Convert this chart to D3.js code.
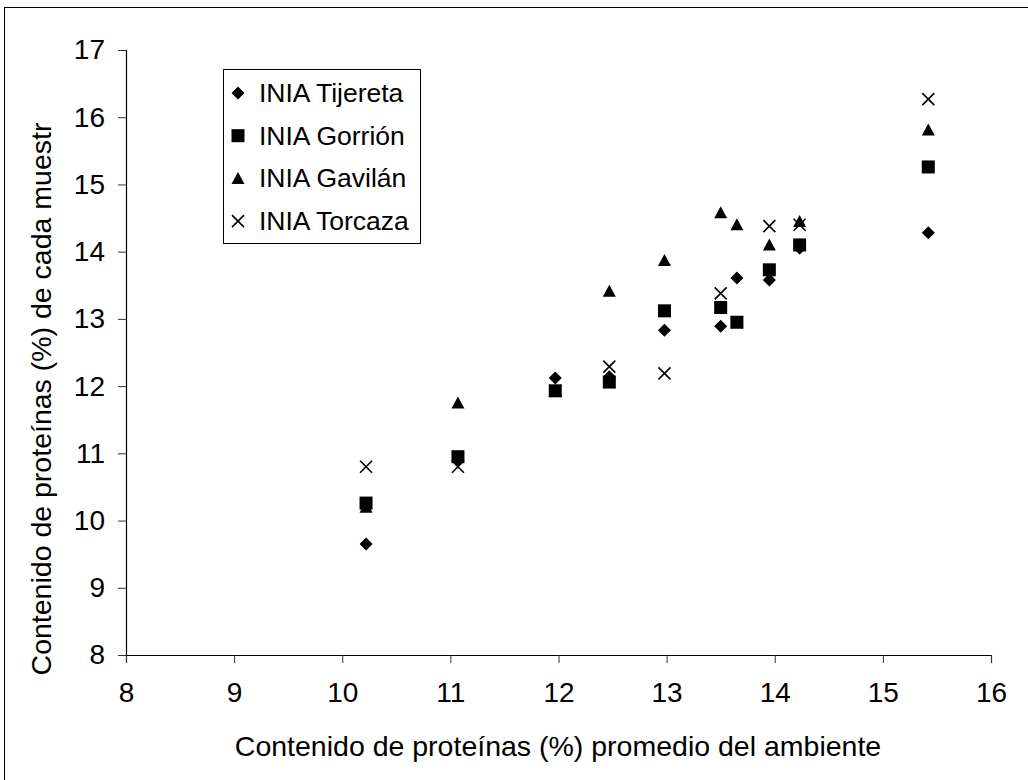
<!DOCTYPE html>
<html><head><meta charset="utf-8">
<script src="https://cdn.jsdelivr.net/npm/d3@7"></script>
<style>
html,body{margin:0;padding:0;background:#fff;}
svg{display:block;font-family:"Liberation Sans",Arial,sans-serif;}
</style></head>
<body><svg id="chart" width="1028" height="780"></svg>
<script>
const xValues = [10.22, 11.07, 11.97, 12.47, 12.98, 13.50, 13.65, 13.95, 14.23, 15.42];
const tijereta = [9.65, 10.90, 12.12, 12.14, 12.83, 12.89, 13.61, 13.58, 14.05, 14.28];
const gorrion  = [10.26, 10.95, 11.93, 12.06, 13.12, 13.17, 12.95, 13.73, 14.10, 15.26];
const gavilan  = [10.20, 11.75, 11.93, 13.41, 13.87, 14.58, 14.40, 14.10, 14.45, 15.81];
const torcaza  = [10.80, 10.80, 11.93, 12.29, 12.19, 13.38, 12.95, 14.38, 14.40, 16.27];
const seriesNames = ["INIA Tijereta", "INIA Gorrión", "INIA Gavilán", "INIA Torcaza"];
const seriesShapes = ["diamond", "square", "triangle", "cross"];
const xTicks = [8, 9, 10, 11, 12, 13, 14, 15, 16];
const yTicks = [8, 9, 10, 11, 12, 13, 14, 15, 16, 17];
const xTitle = "Contenido de proteínas (%) promedio del ambiente";
const yTitle = "Contenido de proteínas (%) de cada muestr";

const seriesValues = [tijereta, gorrion, gavilan, torcaza];
const svg = d3.select("#chart");
const M = {left: 126, top: 50, right: 991, bottom: 655};
const x = d3.scaleLinear().domain([8, 16]).range([M.left, M.right]);
const y = d3.scaleLinear().domain([8, 17]).range([M.bottom, M.top]);

// outer frame
svg.append("rect").attr("x", 4.5).attr("y", 7.5).attr("width", 1040).attr("height", 800)
  .attr("fill", "none").attr("stroke", "#000").attr("stroke-width", 1);

// axes
const xAxis = svg.append("g").attr("transform", `translate(0,${M.bottom})`)
  .call(d3.axisBottom(x).tickValues(xTicks).tickFormat(d3.format("d")).tickSize(8).tickPadding(19));
const yAxis = svg.append("g").attr("transform", `translate(${M.left},0)`)
  .call(d3.axisLeft(y).tickValues(yTicks).tickFormat(d3.format("d")).tickSize(8).tickPadding(13));
[xAxis, yAxis].forEach(a => {
  a.select(".domain").attr("stroke", "#000").attr("stroke-width", 1.2);
  a.selectAll(".tick line").attr("stroke", "#333").attr("stroke-width", 1);
  a.selectAll(".tick text").attr("fill", "#000").style("font-size", "28px")
    .style("font-family", "'Liberation Sans',Arial,sans-serif");
});

svg.append("text").attr("x", 558).attr("y", 756)
  .attr("text-anchor", "middle").style("font-size", "28.5px").text(xTitle);
svg.append("text").attr("transform", `translate(51,${399}) rotate(-90)`)
  .attr("text-anchor", "middle").style("font-size", "28.5px").text(yTitle);

// marker path generator
function shapePath(shape, s) {
  const h = s / 2;
  if (shape === "diamond") return `M0,${-h}L${h},0L0,${h}L${-h},0Z`;
  if (shape === "square") return `M${-h},${-h}H${h}V${h}H${-h}Z`;
  if (shape === "triangle") return `M0,${-h}L${h},${h*0.85}L${-h},${h*0.85}Z`;
  return `M${-h},${-h}L${h},${h}M${-h},${h}L${h},${-h}`;
}
function drawMarker(g, shape, cx, cy) {
  const size = shape === "cross" ? 12 : 13;
  const p = g.append("path").attr("transform", `translate(${cx},${cy})`).attr("d", shapePath(shape, size));
  if (shape === "cross") p.attr("fill", "none").attr("stroke", "#000").attr("stroke-width", 1.6);
  else p.attr("fill", "#000");
}

const pts = svg.append("g");
seriesValues.forEach((vals, si) => {
  vals.forEach((v, i) => drawMarker(pts, seriesShapes[si], x(xValues[i]), y(v)));
});

// legend
const lg = svg.append("g");
lg.append("rect").attr("x", 223.5).attr("y", 69.5).attr("width", 197).attr("height", 174)
  .attr("fill", "#fff").attr("stroke", "#000").attr("stroke-width", 1);
seriesNames.forEach((n, i) => {
  const cy = 93 + i * 42.7;
  drawMarker(lg, seriesShapes[i], 238, cy);
  lg.append("text").attr("x", 259).attr("y", cy + 9).style("font-size", "26.5px").text(n);
});
</script></body></html>
